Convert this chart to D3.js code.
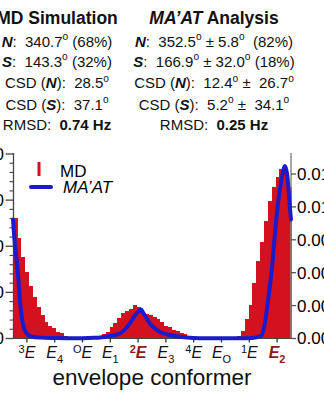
<!DOCTYPE html>
<html><head><meta charset="utf-8">
<script src="https://cdn.jsdelivr.net/npm/d3@7"></script>
<style>
html,body{margin:0;padding:0;background:#fff;overflow:hidden}
svg{display:block;font-family:"Liberation Sans",Arial,Helvetica,sans-serif}
</style></head><body>
<svg id="c" width="324" height="400"></svg>
<script>
// ---------- DATA ----------
// MD histogram: bin start angle (deg, 5 deg bins) and height (left axis units)
const binStart = [0,5,10,15,20,25,30,35,40,45,50,55,60,65,70,75,80,85,90,95,100,105,110,115,120,125,130,135,140,145,150,155,160,165,170,175,180,185,190,195,200,205,210,215,220,225,230,235,240,245,250,255,260,265,270,275,280,285,290,295,300,305,310,315,320,325,330,335,340,345,350,355];
const mdValues = [26.1,21.8,17.6,14.4,11.4,9.0,6.8,5.0,3.6,2.8,2.3,1.5,1.1,0.65,0.37,0.2,0.12,0.08,0.05,0.08,0.15,0.3,0.5,1.0,1.5,2.4,3.3,4.5,5.6,6.0,6.4,7.3,6.8,5.6,5.3,5.1,4.75,4.2,3.5,2.7,2.4,1.95,1.6,1.2,0.93,0.65,0.43,0.28,0.17,0.1,0.06,0.04,0.03,0.03,0.05,0.08,0.15,0.35,0.6,1.7,4.3,7.2,12.1,16.9,21.0,25.5,29.8,32.9,35.0,36.7,36.7,32.8];
// MA'AT probability density (right axis units)
const maatAngle = [0,2.6,4.8,6.9,9.1,11.3,13.3,17.7,24,35,50,70,90,105,115,125.6,138.6,147.2,153.7,158,162.3,165.8,168.7,173.1,177.4,183.9,190.4,199,212,225,242,265,290,310,321.9,326.3,330.6,335,339.3,343.6,348,352.3,355.2,358.7,360];
const maatValue = [0.01085,0.00848,0.00711,0.00547,0.00337,0.00201,0.00119,0.00046,0.00018,0.00008,0.00004,0.00003,0.00003,0.00006,0.00012,0.00023,0.00046,0.00100,0.00164,0.00210,0.00246,0.00264,0.00233,0.00182,0.00137,0.00091,0.00060,0.00039,0.00021,0.00009,0.00003,0.00002,0.00002,0.00004,0.00027,0.00146,0.00365,0.0062,0.00958,0.01259,0.01459,0.01574,0.01487,0.01186,0.01085];
// x tick labels: envelope conformers
const conformerAngle = [18,54,90,126,162,198,234,270,306,342];
const conformerSup = ["3","","O","","2","","4","","1",""];
const conformerSub = ["","4","","1","","3","","O","","2"];
const highlightIdx = [4,9];
// axis ticks
const leftTicks = [0,10,20,30,40];
const leftMinor = [2,4,6,8,12,14,16,18,22,24,26,28,32,34,36,38];
const rightTicks = [0,0.003,0.006,0.009,0.012,0.015];
const rightTickLabels = ["0.000","0.003","0.006","0.009","0.012","0.015"];
const xTitle = "envelope conformer";
const legendLabels = ["MD","MA\u2019AT"];
// header statistics
const mdStats = {title:"MD Simulation", N:"340.7", Np:"68%", S:"143.3", Sp:"32%", csdN:"28.5", csdS:"37.1", rmsd:"0.74 Hz"};
const maatStats = {title1:"MA\u2019AT", title2:" Analysis", N:"352.5", Nerr:"5.8", Np:"82%", S:"166.9", Serr:"32.0", Sp:"18%", csdN:"12.4", csdNerr:"26.7", csdS:"5.2", csdSerr:"34.1", rmsd:"0.25 Hz"};

// ---------- DRAW ----------
const RED = "#d3111f", BLUE = "#1b1bcc", MAROON = "#8c1a1a";
const svg = d3.select("#c");
const x = d3.scaleLinear().domain([0,360]).range([13,291]);
const yL = d3.scaleLinear().domain([0,40]).range([338.5,154]);
const yR = d3.scaleLinear().domain([0,0.015]).range([338.5,174]);
const plotTop = 153;

// bars
svg.append("g").attr("shape-rendering","crispEdges").selectAll("rect").data(binStart).join("rect")
  .attr("x", d=>x(d)).attr("width", d=>x(d+5)-x(d)+0.7)
  .attr("y", (d,i)=>yL(mdValues[i])).attr("height",(d,i)=>yL(0)-yL(mdValues[i]))
  .attr("fill", RED);

// left axis
const gl = svg.append("g").attr("transform","translate(13.5,0)");
gl.append("line").attr("y1",plotTop).attr("y2",yL(0)).attr("stroke","#444").attr("stroke-width",1.3);
gl.selectAll(".mj").data(leftTicks).join("line").attr("x1",-8).attr("x2",0)
  .attr("y1",d=>yL(d)).attr("y2",d=>yL(d)).attr("stroke","#444").attr("stroke-width",1.3);
gl.selectAll(".mn").data(leftMinor).join("line").attr("x1",-4).attr("x2",0)
  .attr("y1",d=>yL(d)).attr("y2",d=>yL(d)).attr("stroke","#444").attr("stroke-width",1.1);
gl.selectAll("text").data(leftTicks).join("text").attr("x",-9.5).attr("y",d=>yL(d)).attr("dy","0.35em")
  .attr("text-anchor","end").attr("font-size",17).text(d=>d);

// right axis
const gr = svg.append("g").attr("transform","translate(291,0)");
gr.append("line").attr("y1",plotTop).attr("y2",yR(0)).attr("stroke","#888").attr("stroke-width",1.5);
gr.selectAll("line.t").data(rightTicks).join("line").attr("class","t").attr("x1",0).attr("x2",5)
  .attr("y1",d=>yR(d)).attr("y2",d=>yR(d)).attr("stroke","#555").attr("stroke-width",1.3);
gr.selectAll("text").data(rightTicks).join("text").attr("x",6).attr("y",d=>yR(d)).attr("dy","0.35em")
  .attr("font-size",17).text((d,i)=>rightTickLabels[i]);

// x axis
svg.append("line").attr("x1",13).attr("x2",291).attr("y1",yL(0)).attr("y2",yL(0)).attr("stroke","#444").attr("stroke-width",1);
const gx = svg.append("g");
gx.selectAll("line").data(conformerAngle).join("line").attr("x1",d=>x(d)).attr("x2",d=>x(d))
  .attr("y1",yL(0)).attr("y2",yL(0)+4).attr("stroke","#333").attr("stroke-width",1.3);
conformerAngle.forEach((a,i)=>{
  const hl = highlightIdx.includes(i);
  const t = gx.append("text").attr("x",x(a)).attr("y",357.5).attr("text-anchor","middle")
    .attr("font-size",16).attr("fill", hl?MAROON:"#111");
  if (conformerSup[i]) t.append("tspan").attr("dy",-4.5).attr("font-size",11)
      .attr("font-weight",hl?"bold":"normal").text(conformerSup[i]);
  t.append("tspan").attr("dy",conformerSup[i]?4.5:0).attr("font-style","italic")
      .attr("font-weight",hl?"bold":"normal").text("E");
  if (conformerSub[i]) t.append("tspan").attr("dy",5).attr("font-size",11)
      .attr("font-weight",hl?"bold":"normal").text(conformerSub[i]);
});
svg.append("text").attr("x",152).attr("y",385).attr("text-anchor","middle").attr("font-size",22.5)
  .attr("fill","#111").text(xTitle);

// MA'AT line
svg.append("path").datum(maatAngle)
  .attr("d", d3.line().x(d=>x(d)).y((d,i)=>yR(maatValue[i])).curve(d3.curveMonotoneX))
  .attr("fill","none").attr("stroke",BLUE).attr("stroke-width",4).attr("stroke-linecap","round").attr("stroke-linejoin","round");

// legend
svg.append("line").attr("x1",39).attr("x2",39).attr("y1",162).attr("y2",176).attr("stroke",RED).attr("stroke-width",3);
svg.append("text").attr("x",60).attr("y",176.5).attr("font-size",17).text(legendLabels[0]);
svg.append("line").attr("x1",31).attr("x2",51).attr("y1",187).attr("y2",187).attr("stroke",BLUE).attr("stroke-width",4).attr("stroke-linecap","round");
svg.append("text").attr("x",63).attr("y",193).attr("font-size",17).attr("font-style","italic").text(legendLabels[1]);

// header rich text
function rich(cx, y, size, segs){
  const t = svg.append("text").attr("x",cx).attr("y",y).attr("text-anchor","middle")
    .attr("font-size",size).attr("fill","#111").style("white-space","pre");
  let shift = 0;
  segs.forEach(s=>{
    const sp = t.append("tspan").text(s.t);
    const target = s.sup ? -0.42*size : 0;
    if (target!==shift){ sp.attr("dy", target-shift); shift = target; }
    if (s.sup) sp.attr("font-size", size*0.68);
    if (s.b) sp.attr("font-weight","bold");
    if (s.i) sp.attr("font-style","italic");
  });
}
const deg = {t:"o", sup:true};
const L = 57, R = 214, fs = 15;
rich(L, 24, 17.5, [{t:mdStats.title, b:true}]);
rich(L, 46.5, fs, [{t:"N",b:true,i:true},{t:":  "+mdStats.N},deg,{t:" ("+mdStats.Np+")"}]);
rich(L, 66.5, fs, [{t:"S",b:true,i:true},{t:":  "+mdStats.S},deg,{t:" ("+mdStats.Sp+")"}]);
rich(L, 88, fs, [{t:"CSD ("},{t:"N",b:true,i:true},{t:"):  "+mdStats.csdN},deg]);
rich(L, 109.5, fs, [{t:"CSD ("},{t:"S",b:true,i:true},{t:"):  "+mdStats.csdS},deg]);
rich(L, 130, fs, [{t:"RMSD:  "},{t:mdStats.rmsd,b:true}]);

rich(R, 24, 17.5, [{t:maatStats.title1, b:true, i:true},{t:maatStats.title2, b:true}]);
rich(R, 46.5, fs, [{t:"N",b:true,i:true},{t:":  "+maatStats.N},deg,{t:" \u00b1 "+maatStats.Nerr},deg,{t:"  ("+maatStats.Np+")"}]);
rich(R, 66.5, fs, [{t:"S",b:true,i:true},{t:":  "+maatStats.S},deg,{t:" \u00b1 "+maatStats.Serr},deg,{t:" ("+maatStats.Sp+")"}]);
rich(R, 88, fs, [{t:"CSD ("},{t:"N",b:true,i:true},{t:"):  "+maatStats.csdN},deg,{t:" \u00b1  "+maatStats.csdNerr},deg]);
rich(R, 109.5, fs, [{t:"CSD ("},{t:"S",b:true,i:true},{t:"):  "+maatStats.csdS},deg,{t:" \u00b1  "+maatStats.csdSerr},deg]);
rich(R, 130, fs, [{t:"RMSD:  "},{t:maatStats.rmsd,b:true}]);
</script>
</body></html>
